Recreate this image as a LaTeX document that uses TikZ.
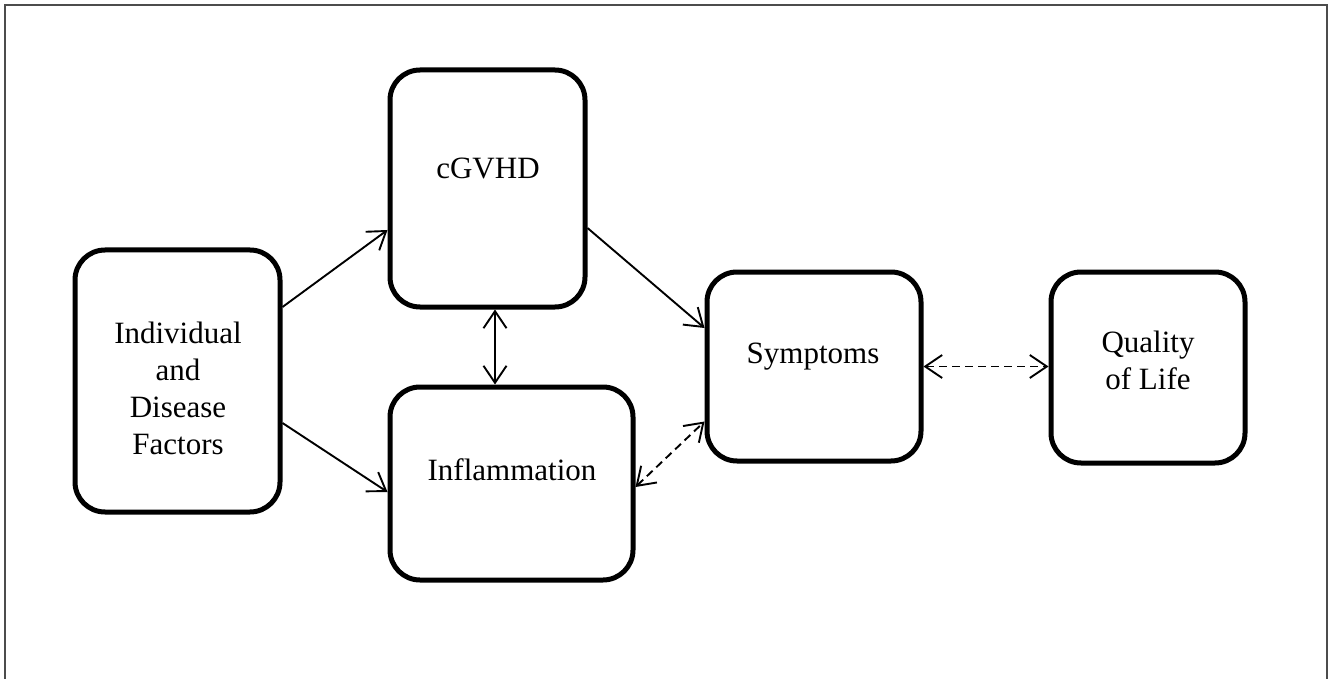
\documentclass[tikz,border=0pt]{standalone}
\usepackage{fontspec}
\setmainfont{Liberation Serif}
\usetikzlibrary{arrows.meta}

\begin{document}
\begin{tikzpicture}[x=1pt,y=-1pt,
  box/.style={draw, line width=5pt, rounded corners=30pt, inner sep=0pt},
  lbl/.style={font=\fontsize{31}{37}\selectfont, align=center, inner sep=0pt},
  barb/.tip={Straight Barb[length=17pt,width=23pt]},
  link/.style={line width=1.9pt, -barb},
  link2/.style={line width=1.9pt, barb-barb},
  dlink/.style={line width=1.9pt, barb-barb, dash pattern=on 8pt off 5pt}
]
\useasboundingbox (0,0) rectangle (1328,679);

% outer frame
\draw[black!70, line width=2pt] (5,685) -- (5,5) -- (1327,5) -- (1327,685);

% boxes
\node[box, minimum width=205pt, minimum height=262pt] (ind) at (177.5,381) {};
\node[box, minimum width=195pt, minimum height=237pt] (cg)  at (487.5,188.5) {};
\node[box, minimum width=243pt, minimum height=193pt] (inf) at (511.5,483.5) {};
\node[box, minimum width=214pt, minimum height=189pt] (sym) at (814,366.5) {};
\node[box, minimum width=194pt, minimum height=191pt] (qol) at (1148,367.5) {};

% labels
\node[lbl] (indt) at (178,388) {Individual\\and\\Disease\\Factors};
\node[lbl] (cgt)  at (488,168) {cGVHD};
\node[lbl] (inft) at (512,470) {Inflammation};
\node[lbl] (symt) at (813,357) {Symptoms};
\node[lbl] (qolt) at (1148,360) {Quality\\of Life};

% connectors
\draw[link]  ([yshift=74pt]ind.east)   -- ([yshift=-41.5pt]cg.west);
\draw[link]  ([yshift=-42pt]ind.east)  -- ([yshift=-8.5pt]inf.west);
\draw[link2] ([xshift=7.5pt]cg.south)  -- ([xshift=-16.5pt]inf.north);
\draw[link]  ([yshift=-39.5pt]cg.east) -- ([yshift=38.5pt]sym.west);
\draw[dlink] ([yshift=-3.5pt]inf.east) -- ([yshift=-55pt]sym.west);
\draw[dlink] (sym.east) -- (sym.east -| qol.west);
\end{tikzpicture}
\end{document}
